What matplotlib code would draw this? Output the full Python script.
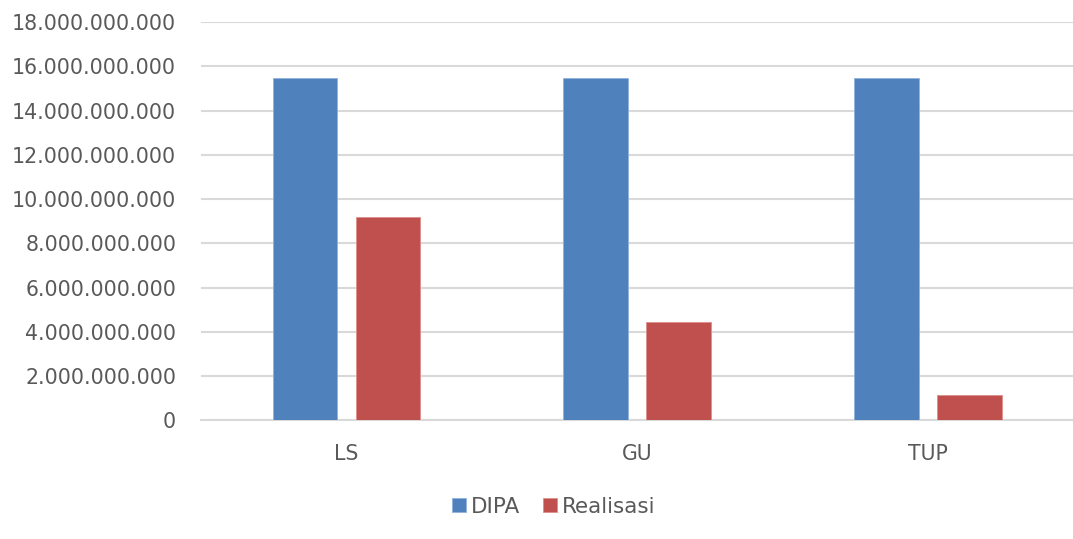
import matplotlib
matplotlib.use("Agg")
import matplotlib.pyplot as plt
import numpy as np
from matplotlib.ticker import FuncFormatter

categories = ["LS", "GU", "TUP"]
dipa = [15.46e9, 15.46e9, 15.46e9]
realisasi = [9.21e9, 4.43e9, 1.14e9]
yticks = np.arange(0, 18e9 + 1, 2e9)

fig = plt.figure(figsize=(10.73, 5.39), dpi=100)
ax = fig.add_axes([0.1875, 0.2199, 0.8125, 0.7393])

x = np.arange(len(categories))
w = 0.223
off = 0.143
ax.bar(x - off, dipa, w, color="#4F81BD", edgecolor="#8FB2DE", linewidth=0.6, label="DIPA", zorder=3)
ax.bar(x + off, realisasi, w, color="#C0504D", edgecolor="#DE8F8D", linewidth=0.6, label="Realisasi", zorder=3)

ax.set_xlim(-0.5, 2.5)
ax.set_ylim(0, 18e9)
ax.set_yticks(yticks)
ax.yaxis.set_major_formatter(FuncFormatter(lambda v, p: f"{int(round(v)):,}".replace(",", ".")))
ax.set_xticks(x)
ax.set_xticklabels(categories)
ax.grid(axis="y", color="#D9D9D9", linewidth=1.5, zorder=0)
for s in ["top", "right", "left"]:
    ax.spines[s].set_visible(False)
ax.spines["bottom"].set_color("#D9D9D9")
ax.spines["bottom"].set_linewidth(1.5)
ax.tick_params(axis="both", length=0, labelsize=14.8, colors="#595959")
ax.tick_params(axis="y", pad=18)
ax.tick_params(axis="x", pad=17)

leg = fig.legend(loc="center", bbox_to_anchor=(0.516, 0.06), ncol=2, frameon=False,
                 fontsize=15.5, handlelength=0.65, handleheight=0.65, handletextpad=0.2,
                 columnspacing=1.1)
for t in leg.get_texts():
    t.set_color("#595959")

fig.savefig("out.png", dpi=100)
